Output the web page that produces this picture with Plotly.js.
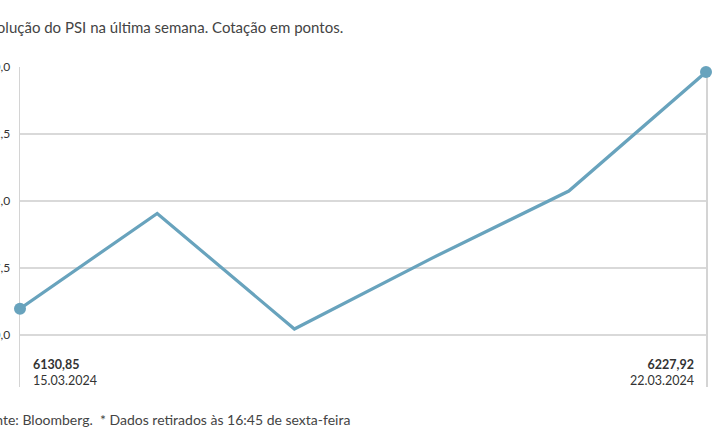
<!DOCTYPE html>
<html>
<head>
<meta charset="utf-8">
<script src="https://cdn.plot.ly/plotly-3.0.1.min.js"></script>
<style>
html,body{margin:0;padding:0;overflow:hidden;background:#fff;width:715px;height:445px;}
#chart{position:absolute;left:-40px;top:0;width:755px;height:445px;}
</style>
</head>
<body>
<div id="chart"></div>
<script>
// Data
const dates = ["15.03.2024", "18.03.2024", "19.03.2024", "20.03.2024", "21.03.2024", "22.03.2024"];
const psiValues = [6130.85, 6169.9, 6122.5, 6151.5, 6179.1, 6227.92];
const yTickValues = [6120.0, 6147.5, 6175.0, 6202.5, 6230.0];
const titleText = "Evolução do PSI na última semana. Cotação em pontos.";
const footerText = "Fonte: Bloomberg.\u00A0\u00A0* Dados retirados às 16:45 de sexta-feira";

const fmt = v => v.toFixed(2).replace(".", ",");
const lastIdx = dates.length - 1;

const lineColor = "#68a3bd";
const FONT = "Lato, 'Open Sans', sans-serif";

const trace = {
  x: dates,
  y: psiValues,
  type: "scatter",
  mode: "lines",
  line: {color: lineColor, width: 3.2},
  hoverinfo: "skip"
};
const endTrace = {
  x: [dates[0], dates[lastIdx]],
  y: [psiValues[0], psiValues[lastIdx]],
  type: "scatter",
  mode: "markers",
  marker: {color: lineColor, size: 12},
  cliponaxis: false,
  hoverinfo: "skip"
};

const layout = {
  width: 755,
  height: 445,
  margin: {l: 60, r: 9, t: 67, b: 58},
  paper_bgcolor: "#fff",
  plot_bgcolor: "#fff",
  showlegend: false,
  separators: ", ",
  font: {family: FONT, color: "#333", size: 12},
  xaxis: {
    type: "category",
    range: [0, lastIdx],
    showgrid: false,
    showticklabels: false,
    zeroline: false,
    showline: false,
    fixedrange: true,
    layer: "below traces"
  },
  yaxis: {
    range: [6098.7, 6230],
    tickvals: yTickValues,
    tickformat: ".1f",
    showgrid: true,
    gridcolor: "#d9d9d9",
    gridwidth: 1.5,
    zeroline: false,
    showline: true,
    mirror: true,
    linecolor: "#d4d4d4",
    linewidth: 1.5,
    ticks: "",
    ticklabelstandoff: 6,
    tickfont: {family: FONT, size: 12, color: "#333"},
    fixedrange: true,
    layer: "below traces"
  },
  annotations: [
    {
      xref: "paper", yref: "paper", x: -0.0598, y: 1.125,
      xanchor: "left", yanchor: "middle",
      text: titleText, showarrow: false,
      font: {family: FONT, size: 15, color: "#444"}
    },
    {
      xref: "paper", yref: "paper", x: -0.0612, y: -0.103,
      xanchor: "left", yanchor: "middle",
      text: footerText, showarrow: false,
      font: {family: FONT, size: 14, color: "#444"}
    },
    {
      xref: "x", yref: "paper", x: dates[0], xshift: 11, y: 0.046,
      xanchor: "left", yanchor: "middle", align: "left",
      text: "<b>" + fmt(psiValues[0]) + "</b><br>" + dates[0], showarrow: false,
      font: {family: FONT, size: 12.5, color: "#333"}
    },
    {
      xref: "x", yref: "paper", x: dates[lastIdx], xshift: -10, y: 0.046,
      xanchor: "right", yanchor: "middle", align: "right",
      text: "<b>" + fmt(psiValues[lastIdx]) + "</b><br>" + dates[lastIdx], showarrow: false,
      font: {family: FONT, size: 12.5, color: "#333"}
    }
  ]
};

Plotly.newPlot("chart", [trace, endTrace], layout, {displayModeBar: false, staticPlot: true});
</script>
</body>
</html>
